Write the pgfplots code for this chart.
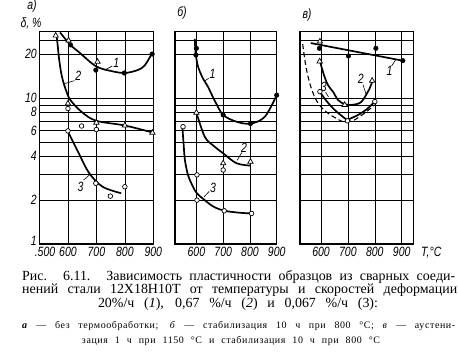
\documentclass[border=0pt]{standalone}
\usepackage{graphicx}
\usepackage{pgfplots}
\pgfplotsset{compat=1.18}
\usepackage{fontspec}
\setmainfont{Liberation Serif}
\newfontfamily\labfont{Liberation Sans}
\newfontfamily\smallcap{Liberation Serif}[LetterSpace=6]
\newcommand\tickfont{\labfont\itshape\fontsize{13.5}{13.5}\selectfont}
\newcommand\tl[1]{\scalebox{0.78}[1]{#1}}
\tikzset{
 mylbl/.style={font=\tickfont, inner sep=0pt},
 myldr/.style={black, line width=0.6bp},
}
\pgfplotsset{
 mypanel/.style={
  scale only axis, anchor=north west,
  height=212.3bp,
  ymin=1, ymax=28.6,
  ytick={1,2,3,4,5,6,7,8,9,10,20,25},
  yticklabels={,,,,,,,,,,,},
  xtick={600,700,800,900},
  xticklabels={\tl{600},\tl{700},\tl{800},\tl{900}},
  grid=major,
  major grid style={black, line width=0.6bp},
  major tick length=0pt,
  axis line style={line width=1.1bp},
  tick label style={font=\tickfont},
  xticklabel style={inner sep=1bp, yshift=-1.5bp},
 },
 mycv/.style={black, line width=1.7bp, smooth, tension=0.55, mark=none},
 myfm/.style={only marks, mark=*, mark size=2.3bp, mark options={fill=black, draw=black}},
 myom/.style={only marks, mark=*, mark size=2.3bp, mark options={fill=white, draw=black, line width=0.7bp}},
 mytm/.style={only marks, mark=triangle*, mark size=3.1bp, mark options={fill=white, draw=black, line width=0.7bp}},
}
\begin{document}
\begin{tikzpicture}[x=1bp,y=1bp]
\useasboundingbox (0,0) rectangle (458,-352);

% ---------------- panel a ----------------
\begin{semilogyaxis}[mypanel, at={(39.5bp,-31.7bp)}, width=113.8bp, xmin=500, xmax=900,
  xtick={500,600,700,800,900},
  xticklabels={\hspace*{11bp}\tl{.500},\tl{600},\tl{700},\tl{800},\tl{900}},
  yticklabels={\raisebox{5.5bp}{\tl{1}},\tl{2},,\tl{4},,\tl{6},,\tl{8},,\tl{10},\tl{20},},
  yticklabel style={inner sep=2.5bp}]
\addplot[mycv] coordinates {(572,28.3) (609,23.2) (640,20.6) (698,16.6) (750,15.4) (799,14.9) (845,15.6) (870,16.8) (894,20.1)};
\addplot[mycv] coordinates {(560,27) (564,23) (569,18.5) (578,14.3) (592,11.5) (609,9.7) (650,8.0) (700,7.0) (800,6.5) (900,5.8)};
\addplot[mycv] coordinates {(600,5.9) (638,4.19) (675,3.06) (722,2.47) (787,2.23)};
\addplot[myfm] coordinates {(609,23.2) (698,15.6) (798,14.9) (896,20.1)};
\addplot[mytm] coordinates {(557,26.9) (602,24.9) (704,17.8) (600,9.2) (700,6.8) (800,6.5) (897,5.8)};
\addplot[myom] coordinates {(600,8.5) (600,5.97) (648,6.45) (700,6.1) (698,2.61) (749,2.13) (800,2.47)};
\node[mylbl] at (axis cs:770,17.6) {\tl{1}};
\draw[myldr] (axis cs:755,16.6) -- (axis cs:728,15.6);
\node[mylbl] at (axis cs:636,14.3) {\tl{2}};
\draw[myldr] (axis cs:623,13.2) -- (axis cs:588,12.6);
\node[mylbl] at (axis cs:644,2.47) {\tl{3}};
\draw[myldr] (axis cs:655,2.75) -- (axis cs:676,2.98);
\end{semilogyaxis}

% ---------------- panel b ----------------
\begin{semilogyaxis}[mypanel, at={(175bp,-31.7bp)}, width=101.7bp, xmin=520, xmax=900]
\addplot[mycv] coordinates {(594,25.5) (597,20.5) (606,16.5) (625,13.6) (643,12.0) (670,9.5) (700,7.68) (750,6.9) (803,6.7) (856,7.48) (900,10.5)};
\addplot[mycv] coordinates {(600,7.97) (631,5.45) (665,4.7) (700,4.19) (750,3.58) (803,3.45)};
\addplot[mycv] coordinates {(548,6.2) (552,4.9) (557,3.77) (568,3.0) (581,2.61) (600,2.25) (631,2.0) (665,1.8) (706,1.69) (760,1.64) (806,1.62)};
\addplot[myfm] coordinates {(600,22) (598,19.8) (700,7.68) (802,6.7) (900,10.5)};
\addplot[mytm] coordinates {(600,7.97) (700,3.58) (802,3.67)};
\addplot[myom] coordinates {(550,6.38) (602,2.98) (602,2.0) (704,1.69) (806,1.62) (700,3.22)};
\node[mylbl] at (axis cs:660,14.6) {\tl{1}};
\draw[myldr] (axis cs:646,13.7) -- (axis cs:630,13.1);
\node[mylbl] at (axis cs:778,4.6) {\tl{2}};
\draw[myldr] (axis cs:770,4.25) -- (axis cs:752,3.75);
\node[mylbl] at (axis cs:662,2.42) {\tl{3}};
\draw[myldr] (axis cs:648,2.3) -- (axis cs:628,2.1);
\end{semilogyaxis}

% ---------------- panel v ----------------
\begin{semilogyaxis}[mypanel, at={(300bp,-31.7bp)}, width=113.3bp, xmin=522, xmax=943]
\addplot[black, line width=1.7bp] coordinates {(562,23.9) (904,18.1)};
\addplot[mycv] coordinates {(595,18.3) (609,14.8) (626,12.3) (646,11.0) (663,9.73) (688,9.1) (713,9.0) (740,9.2) (756,9.73) (781,11.7) (790,13.0)};
\addplot[mycv] coordinates {(595,11.1) (620,9.6) (651,8.31) (688,7.29) (698,7.1)};
\addplot[black, line width=1.7bp, smooth, tension=0.3] coordinates {(698,7.1) (738,7.68) (770,8.4) (800,9.48)};
\addplot[black, line width=1.1bp, smooth, tension=0.55, dash pattern=on 5bp off 3bp] coordinates {(532,23.5) (545,16.1) (564,11.7) (589,9.24) (626,7.89) (675,6.98) (694,6.84)};
\addplot[black, line width=1.1bp, dash pattern=on 5bp off 3bp] coordinates {(694,6.84) (725,7.1) (762,7.89) (800,9.0)};
\addplot[myfm] coordinates {(594,22.0) (702,19.5) (804,22.0) (904,18.1)};
\addplot[mytm] coordinates {(596,24.5) (595,17.9) (688,9.0) (790,13.2)};
\addplot[myom] coordinates {(596,11.1) (698,7.0) (800,9.48)};
\node[mylbl] at (axis cs:855,15.5) {\tl{1}};
\draw[myldr] (axis cs:862,16.6) -- (axis cs:878,18.4);
\node[mylbl] at (axis cs:748,13.6) {\tl{2}};
\draw[myldr] (axis cs:756,12.4) -- (axis cs:768,10.6);
\node[mylbl] at (axis cs:610,11.9) {\tl{3}};
\draw[myldr] (axis cs:617,11.0) -- (axis cs:628,10.2);
\end{semilogyaxis}

% ---------------- texts ----------------
\node[mylbl] at (32,-6) {\tl{а)}};
\node[mylbl] at (31,-23.5) {\tl{δ, \%}};
\node[mylbl] at (182,-13) {\tl{б)}};
\node[mylbl] at (307,-15) {\tl{в)}};
\node[mylbl, anchor=west] at (421,-253) {\tl{T,°C}};

\node[inner sep=0pt, anchor=base west] at (22,-280.3) {\fontsize{14}{14}\selectfont\makebox[433bp][s]{Рис. 6.11. Зависимость пластичности образцов из сварных соеди-}};
\node[inner sep=0pt, anchor=base west] at (22,-293.7) {\fontsize{14}{14}\selectfont\makebox[435bp][s]{нений стали 12Х18Н10Т от температуры и скоростей деформации}};
\node[inner sep=0pt, anchor=base] at (238,-307) {\fontsize{14}{14}\selectfont\makebox[280bp][s]{20\%/ч (\textit{1}), 0,67 \%/ч (\textit{2}) и 0,067 \%/ч (3):}};
\node[inner sep=0pt, anchor=base west] at (22,-328.5) {\smallcap\fontsize{10}{10}\selectfont\makebox[433bp][s]{\textbf{\textit{а}} — без термообработки; \textit{б} — стабилизация 10 ч при 800 °С; \textit{в} — аустени-}};
\node[inner sep=0pt, anchor=base] at (231,-343.5) {\smallcap\fontsize{10}{10}\selectfont\makebox[298bp][s]{зация 1 ч при 1150 °С и стабилизация 10 ч при 800 °С}};
\end{tikzpicture}
\end{document}
